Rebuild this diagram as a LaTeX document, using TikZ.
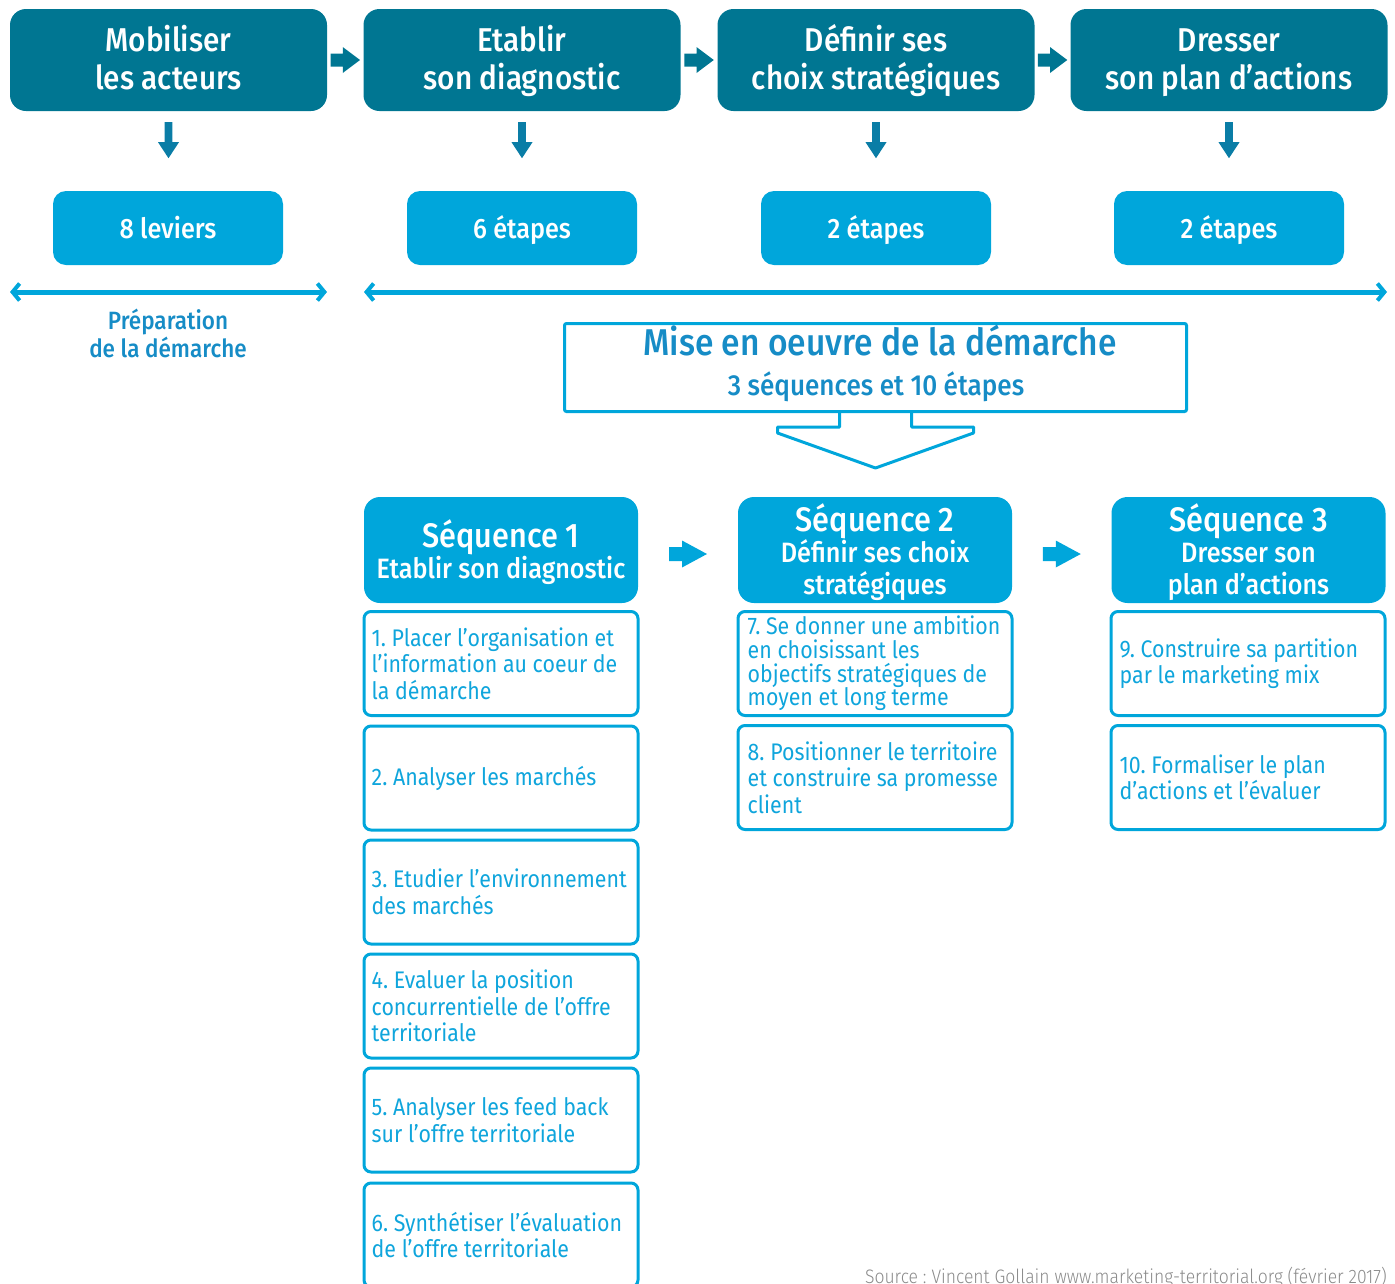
\documentclass[tikz,border=0pt]{standalone}
\usepackage{fontspec}
\setmainfont{Fira Sans}[FakeStretch=0.9]
\newfontfamily\fmed{Fira Sans Medium}[FakeStretch=0.9]
\newfontfamily\fstep{Fira Sans}[FakeStretch=0.89]
\newfontfamily\flight{Fira Sans Light}[FakeStretch=0.9]
\frenchspacing
\usetikzlibrary{arrows.meta,calc}
\definecolor{cDark}{HTML}{007692}
\definecolor{cCyan}{HTML}{00A6DB}
\definecolor{cTxtBlue}{HTML}{168CC6}
\definecolor{cStep}{HTML}{0FA5DC}
\definecolor{cDown}{HTML}{0A7DA6}
\definecolor{cGray}{HTML}{8A8A8A}
\begin{document}
\begin{tikzpicture}[x=1pt,y=-1pt,
  topbox/.style={fill=cDark, rounded corners=16pt, minimum width=317pt, minimum height=102pt, inner sep=0pt},
  toptxt/.style={anchor=base, text=white, inner sep=0pt, font=\fmed\fontsize{33}{38}\selectfont},
  lightbox/.style={fill=cCyan, rounded corners=13pt, minimum width=230pt, minimum height=74pt, inner sep=0pt},
  lighttxt/.style={anchor=base, text=white, inner sep=0pt, font=\fmed\fontsize{28}{32}\selectfont},
  seqbox/.style={fill=cCyan, rounded corners=16pt, minimum width=274pt, minimum height=106pt, inner sep=0pt},
  seqtitle/.style={anchor=base, text=white, inner sep=0pt, font=\fmed\fontsize{34}{38}\selectfont},
  seqsub/.style={anchor=base, text=white, inner sep=0pt, font=\fmed\fontsize{28}{32}\selectfont},
  stepbox/.style={draw=cCyan, line width=3pt, rounded corners=7pt, minimum width=274pt, minimum height=104pt, inner sep=0pt},
  steptxt/.style={anchor=west, align=left, inner sep=0pt, text=cStep, font=\fstep\fontsize{24}{26.5}\selectfont},
  misebox/.style={draw=cCyan, line width=3pt, rounded corners=2pt, minimum width=622pt, minimum height=88pt, inner sep=0pt},
  bluetxt/.style={anchor=base, text=cTxtBlue, inner sep=0pt},
  dblarrow/.style={draw=cCyan, line width=5pt, {Straight Barb[length=7pt,width=17pt,line width=4pt]}-{Straight Barb[length=7pt,width=17pt,line width=4pt]}},
  rarrowtop/.pic={\fill[cDark] (-14.75,-6.5) -- (-2.5,-6.5) -- (-2.5,-13) -- (14.75,0) -- (-2.5,13) -- (-2.5,6.5) -- (-14.75,6.5) -- cycle;},
  darrow/.pic={\fill[cDown] (-3.8,0) -- (3.8,0) -- (3.8,20) -- (10.5,20) -- (0,36) -- (-10.5,20) -- (-3.8,20) -- cycle;},
  rarrowseq/.pic={\fill[cCyan] (-19,-7) -- (-6,-7) -- (-6,-13.5) -- (19,0) -- (-6,13.5) -- (-6,7) -- (-19,7) -- cycle;}
]
\useasboundingbox (0,0) rectangle (1395,1283);
\clip (0,0) rectangle (1395,1283);

% top boxes
\node[topbox] (t1) at (168.5,60) {};
\node[topbox] (t2) at (522,60) {};
\node[topbox] (t3) at (876,60) {};
\node[topbox] (t4) at (1229,60) {};
\node[toptxt] (t1a) at (168.5,51) {Mobiliser};
\node[toptxt] (t1b) at (168.5,89) {les acteurs};
\node[toptxt] (t2a) at (522,51) {Etablir};
\node[toptxt] (t2b) at (522,89) {son diagnostic};
\node[toptxt] (t3a) at (876,51) {Définir ses};
\node[toptxt] (t3b) at (876,89) {choix stratégiques};
\node[toptxt] (t4a) at (1229,51) {Dresser};
\node[toptxt] (t4b) at (1229,89) {son plan d’actions};

\pic at ($(t1.east)!0.5!(t2.west)$) {rarrowtop};
\pic at ($(t2.east)!0.5!(t3.west)$) {rarrowtop};
\pic at ($(t3.east)!0.5!(t4.west)$) {rarrowtop};

% light boxes
\node[lightbox] (l1) at (168,228) {};
\node[lightbox] (l2) at (522,228) {};
\node[lightbox] (l3) at (876,228) {};
\node[lightbox] (l4) at (1229,228) {};
\node[lighttxt] (l1t) at (168,238) {8 leviers};
\node[lighttxt] (l2t) at (522,238) {6 étapes};
\node[lighttxt] (l3t) at (876,238) {2 étapes};
\node[lighttxt] (l4t) at (1229,238) {2 étapes};

\pic at ($(t1.south)+(0,11)$) {darrow};
\pic at ($(t2.south)+(0,11)$) {darrow};
\pic at ($(t3.south)+(0,11)$) {darrow};
\pic at ($(t4.south)+(0,11)$) {darrow};

% double arrows
\coordinate (pa) at (10,292);
\coordinate (pb) at (327,292);
\coordinate (ma) at (364,292);
\coordinate (mb) at (1387,292);
\draw[dblarrow] (pa) -- (pb);
\draw[dblarrow] (ma) -- (mb);

\node[bluetxt, font=\fmed\fontsize{25}{29}\selectfont] (p1) at (168,329) {Préparation};
\node[bluetxt, font=\fmed\fontsize{25}{29}\selectfont] (p2) at (168,357) {de la démarche};

% mise en oeuvre
\node[misebox] (m) at (875.5,367.5) {};
\node[bluetxt, font=\fmed\fontsize{37.3}{40}\selectfont] (mt) at (880,355) {Mise en oeuvre de la démarche};
\node[bluetxt, font=\fmed\fontsize{29}{32}\selectfont] (ms) at (876,395) {3 séquences et 10 étapes};
\draw[cCyan, line width=3pt, line join=round]
  ($(m.south)+(-36,0)$) -- ++(0,14) -- ++(-62,0) -- ++(0,6) -- ++(98,35)
  -- ++(98,-35) -- ++(0,-6) -- ++(-62,0) -- ++(0,-14);

% sequences
\node[seqbox] (s1) at (501,550) {};
\node[seqbox] (s2) at (875,550) {};
\node[seqbox] (s3) at (1248.5,550) {};
\node[seqtitle] (s1a) at (501,547) {Séquence 1};
\node[seqsub] (s1b) at (501,578) {Etablir son diagnostic};
\node[seqtitle] (s2a) at (875,531) {Séquence 2};
\node[seqsub] (s2b) at (875,562) {Définir ses choix};
\node[seqsub] (s2c) at (875,594) {stratégiques};
\node[seqtitle] (s3a) at (1248.5,531) {Séquence 3};
\node[seqsub] (s3b) at (1248.5,562) {Dresser son};
\node[seqsub] (s3c) at (1248.5,594) {plan d’actions};

\pic at ($($(s1.east)!0.5!(s2.west)$)+(0,4)$) {rarrowseq};
\pic at ($($(s2.east)!0.5!(s3.west)$)+(0,4)$) {rarrowseq};

% steps
\node[stepbox] (e1) at (501,663.5) {};
\node[stepbox] (e2) at (501,778) {};
\node[stepbox] (e3) at (501,892) {};
\node[stepbox] (e4) at (501,1006) {};
\node[stepbox] (e5) at (501,1120) {};
\node[stepbox] (e6) at (501,1235) {};
\node[stepbox] (e7) at (875,663.5) {};
\node[stepbox] (e8) at (875,777.5) {};
\node[stepbox] (e9) at (1248,663.5) {};
\node[stepbox] (e10) at (1248,777.5) {};

\node[steptxt] (e1t) at ($(e1.west)+(9,0)$) {1. Placer l’organisation et\\l’information au coeur de\\la démarche};
\node[steptxt] (e2t) at ($(e2.west)+(9,0)$) {2. Analyser les marchés};
\node[steptxt] (e3t) at ($(e3.west)+(9,0)$) {3. Etudier l’environnement\\des marchés};
\node[steptxt] (e4t) at ($(e4.west)+(9,0)$) {4. Evaluer la position\\concurrentielle de l’offre\\territoriale};
\node[steptxt] (e5t) at ($(e5.west)+(9,0)$) {5. Analyser les feed back\\sur l’offre territoriale};
\node[steptxt] (e6t) at ($(e6.west)+(9,0)$) {6. Synthétiser l’évaluation\\de l’offre territoriale};
\node[steptxt, font=\fstep\fontsize{24}{23.7}\selectfont] (e7t) at ($(e7.west)+(11,0)$) {7. Se donner une ambition\\en choisissant les\\objectifs stratégiques de\\moyen et long terme};
\node[steptxt] (e8t) at ($(e8.west)+(11,0)$) {8. Positionner le territoire\\et construire sa promesse\\client};
\node[steptxt] (e9t) at ($(e9.west)+(10,0)$) {9. Construire sa partition\\par le marketing mix};
\node[steptxt] (e10t) at ($(e10.west)+(10,0)$) {10. Formaliser le plan\\d’actions et l’évaluer};

\node[anchor=base east, inner sep=0pt, text=cGray, font=\flight\fontsize{19.5}{21}\selectfont] (src) at (1387,1283) {Source : Vincent Gollain www.marketing-territorial.org (février 2017)};
\end{tikzpicture}
\end{document}
